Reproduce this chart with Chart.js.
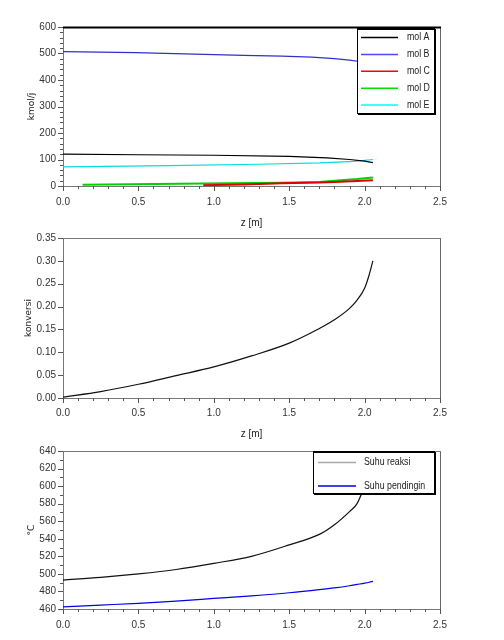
<!DOCTYPE html>
<html><head><meta charset="utf-8">
<script src="https://cdn.jsdelivr.net/npm/chart.js@4.4.0/dist/chart.umd.min.js"></script>
<style>
html,body{margin:0;padding:0;background:#fff;width:504px;height:640px;overflow:hidden}
.c{position:absolute;left:0;width:504px}
</style></head><body>
<div class="c" style="top:0;height:229px"><canvas id="c1"></canvas></div>
<div class="c" style="top:229px;height:211px"><canvas id="c2"></canvas></div>
<div class="c" style="top:440px;height:200px"><canvas id="c3"></canvas></div>
<script>
// ---- data ----
const zA = [0, 0.5, 1.0, 1.5, 1.75, 1.9, 2.0, 2.055];
const molA = [120, 118, 116, 112, 106, 100, 94, 88];
const zB = [0, 0.48, 0.87, 1.2, 1.45, 1.65, 1.8, 1.9, 2.0, 2.055];
const molB = [507, 503, 498, 493, 490, 486, 481, 475, 467, 460];
const zC = [0.93, 1.2, 1.45, 1.7, 1.8, 1.95, 2.055];
const molC = [3, 6, 10, 13, 15, 19, 22];
const zD = [0.13, 0.93, 1.45, 1.7, 1.8, 1.95, 2.055];
const molD = [5, 9, 12, 15, 20, 26, 32];
const zE = [0, 0.7, 1.3, 1.7, 1.93, 2.055];
const molE = [72, 77, 82, 87, 93, 100];
const molLabels = ['mol A', 'mol B', 'mol C', 'mol D', 'mol E'];

const zK = [0, 0.25, 0.5, 0.75, 1.0, 1.25, 1.5, 1.7, 1.8, 1.9, 1.95, 2.0, 2.03, 2.055];
const konversi = [0.002, 0.014, 0.030, 0.049, 0.068, 0.092, 0.120, 0.152, 0.171, 0.196, 0.214, 0.240, 0.269, 0.300];

const zT = [0, 0.25, 0.5, 0.75, 1.0, 1.25, 1.5, 1.7, 1.8, 1.9, 1.95, 2.0, 2.03, 2.055];
const suhuReaksi = [493, 496, 500, 505, 512, 520, 533, 545, 556, 571, 580, 600, 613, 628];
const suhuPendingin = [462.5, 464.5, 466.5, 469, 472, 475, 478.5, 482, 484, 486.5, 488, 489.5, 490.5, 491.5];
const tempLabels = ['Suhu reaksi', 'Suhu pendingin'];

const pts = (xs, ys) => xs.map((x, i) => ({x, y: ys[i]}));

const TICK_FONT = {family: '"Liberation Sans", Arial, sans-serif', size: 10};
const TITLE_FONT = {family: '"Liberation Sans", Arial, sans-serif', size: 10};
const YTITLE_FONT = {family: '"DejaVu Sans", sans-serif', size: 9};

const framePlugin = {
  id: 'frame',
  afterDraw(chart, args, o) {
    const {ctx, chartArea: a, scales: {x, y}} = chart;
    ctx.save();
    // right border
    ctx.strokeStyle = '#666'; ctx.lineWidth = 1;
    ctx.beginPath(); ctx.moveTo(a.right + 0.5, a.top); ctx.lineTo(a.right + 0.5, a.bottom + 1); ctx.stroke();
    // top border
    ctx.strokeStyle = o.topColor; ctx.lineWidth = o.topWidth;
    ctx.beginPath(); ctx.moveTo(a.left, a.top + 0.5); ctx.lineTo(a.right + 1, a.top + 0.5); ctx.stroke();
    // ticks
    ctx.strokeStyle = '#555'; ctx.lineWidth = 1;
    const isMaj = (v, m) => Math.abs(v / m - Math.round(v / m)) < 1e-6;
    const nx = Math.round((x.max - x.min) / o.xMinor);
    for (let i = 0; i <= nx; i++) {
      const v = x.min + i * o.xMinor;
      const px = Math.round(x.getPixelForValue(v)) + 0.5;
      const len = isMaj(v, o.xMajor) ? 5 : 3;
      ctx.beginPath(); ctx.moveTo(px, a.bottom); ctx.lineTo(px, a.bottom + len); ctx.stroke();
    }
    const ny = Math.round((y.max - y.min) / o.yMinor);
    for (let i = 0; i <= ny; i++) {
      const v = y.min + i * o.yMinor;
      const py = Math.round(y.getPixelForValue(v)) + 0.5;
      const len = isMaj(v - y.min, o.yMajor) ? 5 : 3;
      ctx.beginPath(); ctx.moveTo(a.left, py); ctx.lineTo(a.left - len, py); ctx.stroke();
    }
    // legend
    if (o.legend) {
      const L = o.legend;
      ctx.fillStyle = '#fff';
      ctx.fillRect(L.x1, L.y1, L.x2 - L.x1, L.y2 - L.y1);
      ctx.strokeStyle = '#000'; ctx.lineWidth = 1;
      ctx.strokeRect(L.x1 + 0.5, L.y1 + 0.5, L.x2 - L.x1, L.y2 - L.y1);
      ctx.lineWidth = 2;
      ctx.beginPath();
      ctx.moveTo(L.x1 + 1, L.y2 + 1); ctx.lineTo(L.x2 + 1, L.y2 + 1); ctx.lineTo(L.x2 + 1, L.y1 + 1);
      ctx.stroke();
      ctx.beginPath(); ctx.moveTo(L.x1, L.y1 + 1); ctx.lineTo(L.x2 + 1, L.y1 + 1); ctx.stroke();
      ctx.font = '10px "Liberation Sans", Arial, sans-serif';
      ctx.textBaseline = 'middle';
      chart.data.datasets.forEach((ds, i) => {
        const yy = L.y0 + i * L.dy;
        ctx.strokeStyle = L.colors[i]; ctx.lineWidth = 1.5;
        ctx.beginPath(); ctx.moveTo(L.lx1, yy); ctx.lineTo(L.lx2, yy); ctx.stroke();
        ctx.fillStyle = '#222';
        ctx.save();
        ctx.translate(L.tx, yy);
        ctx.scale(0.88, 1);
        ctx.fillText(ds.label, 0, 0);
        ctx.restore();
      });
    }
    ctx.restore();
  }
};

function makeChart(id, datasets, o) {
  return new Chart(document.getElementById(id), {
    type: 'scatter',
    data: {datasets},
    plugins: [framePlugin],
    options: {
      responsive: true, maintainAspectRatio: false, animation: false,
      layout: {padding: {top: o.padTop, right: 64, left: 0, bottom: 0}},
      plugins: {legend: {display: false}, tooltip: {enabled: false}, frame: o.frame},
      elements: {point: {radius: 0}, line: {tension: 0}},
      scales: {
        x: {
          type: 'linear', min: 0, max: 2.5,
          grid: {display: true, drawOnChartArea: false, drawTicks: false},
          border: {display: true, color: '#777', width: 1},
          ticks: {stepSize: 0.5, padding: o.xPad, color: '#333', font: TICK_FONT, maxRotation: 0,
                  callback: v => v.toFixed(1)},
          title: {display: !!o.xTitle, text: o.xTitle || '', color: '#222', font: TITLE_FONT, padding: {top: 0, bottom: 0}},
          afterFit: s => { s.height = o.xh; s.paddingLeft = 0; s.paddingRight = 0; }
        },
        y: {
          type: 'linear', min: o.yMin, max: o.yMax,
          grid: {display: true, drawOnChartArea: false, drawTicks: false},
          border: {display: true, color: '#777', width: 1},
          ticks: {stepSize: o.yStep, padding: 7, color: '#333', font: TICK_FONT,
                  callback: v => v.toFixed(o.yDec)},
          title: {display: true, text: o.yTitle, color: '#222', font: YTITLE_FONT, padding: {top: o.yTitlePad, bottom: 0}},
          afterFit: s => { s.width = 63; s.paddingTop = 0; s.paddingBottom = 0; }
        }
      }
    }
  });
}

const molColors = ['#000000', '#3030d0', '#e00000', '#00d000', '#00dede'];
const molLegendColors = ['#000000', '#4a4aff', '#ff0000', '#00e000', '#00ffff'];
const molData = [pts(zA, molA), pts(zB, molB), pts(zC, molC), pts(zD, molD), pts(zE, molE)];
makeChart('c1', molData.map((d, i) => ({
  label: molLabels[i], data: d, showLine: true, borderColor: molColors[i],
  borderWidth: (i === 2 || i === 3) ? 2 : 1.2, pointRadius: 0
})), {
  padTop: 27, xh: 43, xPad: 10, xTitle: 'z [m]', yMin: 0, yMax: 600, yStep: 100, yDec: 0, yTitle: 'kmol/j', yTitlePad: 26,
  frame: {topColor: '#000', topWidth: 2, xMinor: 0.1, xMajor: 0.5, yMinor: 20, yMajor: 100,
    legend: {x1: 357, y1: 28, x2: 434, y2: 113, y0: 37.5, dy: 16.9, lx1: 361, lx2: 398, tx: 407, colors: molLegendColors}}
});

makeChart('c2', [{
  label: 'konversi', data: pts(zK, konversi), showLine: true, borderColor: '#111', borderWidth: 1.2, pointRadius: 0,
  cubicInterpolationMode: 'monotone'
}], {
  padTop: 9, xh: 42, xPad: 9, xTitle: 'z [m]', yMin: 0, yMax: 0.35, yStep: 0.05, yDec: 2, yTitle: 'konversi', yTitlePad: 23,
  frame: {topColor: '#777', topWidth: 1, xMinor: 0.1, xMajor: 0.5, yMinor: 0.05, yMajor: 0.05}
});

makeChart('c3', [
  {label: tempLabels[0], data: pts(zT, suhuReaksi), showLine: true, borderColor: '#111', borderWidth: 1.2, pointRadius: 0,
   cubicInterpolationMode: 'monotone'},
  {label: tempLabels[1], data: pts(zT, suhuPendingin), showLine: true, borderColor: '#0000e8', borderWidth: 1.2, pointRadius: 0,
   cubicInterpolationMode: 'monotone'}
], {
  padTop: 11, xh: 31, xPad: 10, xTitle: '', yMin: 460, yMax: 640, yStep: 20, yDec: 0, yTitle: '°C', yTitlePad: 26,
  frame: {topColor: '#777', topWidth: 1, xMinor: 0.1, xMajor: 0.5, yMinor: 10, yMajor: 20,
    legend: {x1: 313, y1: 11, x2: 434, y2: 53, y0: 22.5, dy: 23.5, lx1: 318, lx2: 356, tx: 364, colors: ['#aaaaaa', '#0000e8']}}
});
</script>
</body></html>
